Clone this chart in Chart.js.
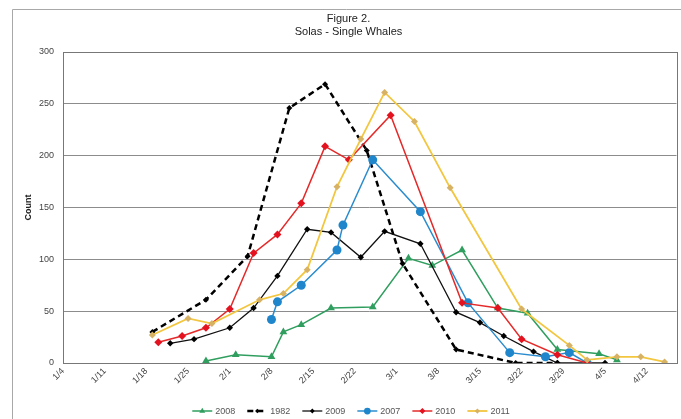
<!DOCTYPE html>
<html>
<head>
<meta charset="utf-8">
<script src="https://cdn.jsdelivr.net/npm/chart.js@4.4.0/dist/chart.umd.min.js"></script>
<style>
  body { margin: 0; background: #fff; }
  #wrap { position: relative; width: 681px; height: 419px; }
</style>
</head>
<body>
<div id="wrap"><canvas id="myChart" width="681" height="419"></canvas></div>
<script>
// ticks on the x axis, one a week starting 1/4
var tickLabels = ['1/4', '1/11', '1/18', '1/25', '2/1', '2/8', '2/15', '2/22', '3/1', '3/8', '3/15', '3/22', '3/29', '4/5', '4/12'];
var yTicks = [0, 50, 100, 150, 200, 250, 300];

// survey dates and counts, one pair per year
var dates2008 = ['1/28', '2/2', '2/8', '2/10', '2/13', '2/18', '2/25', '3/3', '3/7', '3/12', '3/18', '3/23', '3/28', '4/4', '4/7'];
var counts2008 = [2, 8, 6, 30, 37, 53, 54, 101, 94, 109, 53, 48, 13, 9, 3];

var dates1982 = ['1/19', '1/28', '2/4', '2/11', '2/17', '2/24', '3/2', '3/11', '3/21', '3/28'];
var counts1982 = [30, 61, 103, 246, 269, 205, 96, 13, 0, 0];

var dates2009 = ['1/22', '1/26', '2/1', '2/5', '2/9', '2/14', '2/18', '2/23', '2/27', '3/5', '3/11', '3/15', '3/19', '3/24', '3/28', '4/5'];
var counts2009 = [19, 23, 34, 53, 84, 129, 126, 102, 127, 115, 49, 39, 26, 11, 0, 0];

var dates2007 = ['2/8', '2/9', '2/13', '2/19', '2/20', '2/25', '3/5', '3/13', '3/20', '3/26', '3/30', '4/2'];
var counts2007 = [42, 59, 75, 109, 133, 196, 146, 58, 10, 6, 10, 0];

var dates2010 = ['1/20', '1/24', '1/28', '2/1', '2/5', '2/9', '2/13', '2/17', '2/21', '2/28', '3/12', '3/18', '3/22', '3/28', '4/2'];
var counts2010 = [20, 26, 34, 52, 106, 124, 154, 209, 196, 239, 58, 53, 23, 8, 0];

var dates2011 = ['1/19', '1/25', '1/29', '2/6', '2/10', '2/14', '2/19', '2/23', '2/27', '3/4', '3/10', '3/22', '3/30', '4/2', '4/7', '4/11', '4/15'];
var counts2011 = [27, 43, 38, 61, 67, 90, 170, 216, 261, 233, 169, 52, 17, 3, 6, 6, 1];

// days since 1/4
function dayOf(s) {
  var p = s.split('/');
  return (Date.UTC(2011, p[0] - 1, +p[1]) - Date.UTC(2011, 0, 4)) / 86400000;
}
function pts(dates, counts) {
  return dates.map(function (d, i) { return { x: dayOf(d), y: counts[i] }; });
}

var datasets = [
  { label: '2008', data: pts(dates2008, counts2008), borderColor: '#2f9e5e', backgroundColor: '#2f9e5e',
    pointStyle: 'triangle', pointRadius: 4.5, borderWidth: 1.5, order: 6 },
  { label: '1982', data: pts(dates1982, counts1982), borderColor: '#000', backgroundColor: '#000',
    pointStyle: 'rectRot', pointRadius: 3, borderWidth: 2.5, borderDash: [6, 4], order: 5 },
  { label: '2009', data: pts(dates2009, counts2009), borderColor: '#111', backgroundColor: '#000',
    pointStyle: 'rectRot', pointRadius: 3.2, borderWidth: 1.3, order: 4 },
  { label: '2007', data: pts(dates2007, counts2007), borderColor: '#2a8ccf', backgroundColor: '#1f86cc',
    pointStyle: 'circle', pointRadius: 4.5, borderWidth: 1.5, order: 3 },
  { label: '2010', data: pts(dates2010, counts2010), borderColor: '#e52a2a', backgroundColor: '#e3121e',
    pointStyle: 'rectRot', pointRadius: 4, borderWidth: 1.5, order: 2 },
  { label: '2011', data: pts(dates2011, counts2011), borderColor: '#f3c63f', backgroundColor: '#d8b264',
    pointStyle: 'rectRot', pointRadius: 3.5, borderWidth: 1.8, order: 1 }
];
datasets.forEach(function (ds) {
  ds.tension = 0;
  ds.fill = false;
  ds.pointBorderWidth = 0;
  ds.pointBorderColor = ds.backgroundColor;
});

// outer frame and plot box
var framePlugin = {
  id: 'frame',
  beforeDraw: function (chart) {
    var ctx = chart.ctx;
    ctx.save();
    ctx.fillStyle = '#fff';
    ctx.fillRect(0, 0, chart.width, chart.height);
    ctx.strokeStyle = '#a8a8a8';
    ctx.lineWidth = 1;
    ctx.beginPath();
    ctx.moveTo(12.5, chart.height);
    ctx.lineTo(12.5, 9.5);
    ctx.lineTo(chart.width, 9.5);
    ctx.stroke();
    ctx.restore();
  },
  beforeDatasetsDraw: function (chart) {
    var a = chart.chartArea, ctx = chart.ctx;
    ctx.save();
    ctx.strokeStyle = '#777';
    ctx.lineWidth = 1;
    ctx.strokeRect(Math.round(a.left) + 0.5, Math.round(a.top) + 0.5, Math.round(a.right - a.left), Math.round(a.bottom - a.top));
    ctx.restore();
  }
};

// legend with line + marker samples, centred under the chart
var legendPlugin = {
  id: 'lineLegend',
  afterDraw: function (chart) {
    var ctx = chart.ctx;
    ctx.save();
    ctx.font = '9px "Liberation Sans", Arial, sans-serif';
    ctx.textBaseline = 'middle';
    var items = chart.data.datasets.map(function (ds) {
      return { ds: ds, w: 20 + 3 + ctx.measureText(ds.label).width };
    });
    var gap = 12;
    var total = items.reduce(function (s, it) { return s + it.w; }, 0) + gap * (items.length - 1);
    var x = 351 - total / 2, y = 411;
    items.forEach(function (it) {
      var ds = it.ds;
      ctx.strokeStyle = ds.borderColor;
      ctx.lineWidth = ds.borderWidth;
      ctx.setLineDash(ds.borderDash || []);
      ctx.beginPath();
      ctx.moveTo(x, y);
      ctx.lineTo(x + 20, y);
      ctx.stroke();
      ctx.setLineDash([]);
      ctx.fillStyle = ds.backgroundColor;
      ctx.strokeStyle = ds.backgroundColor;
      Chart.helpers.drawPoint(ctx, { pointStyle: ds.pointStyle, radius: ds.pointRadius * 0.75, rotation: 0, borderWidth: 0 }, x + 10, y);
      ctx.fillStyle = '#555';
      ctx.fillText(ds.label, x + 23, y + 0.5);
      x += it.w + gap;
    });
    ctx.restore();
  }
};

var ctx = document.getElementById('myChart').getContext('2d');
var chart = new Chart(ctx, {
  type: 'line',
  data: { datasets: datasets },
  options: {
    responsive: false,
    animation: false,
    devicePixelRatio: 1,
    layout: { padding: { left: 20, right: 4, top: 0, bottom: 0 } },
    plugins: {
      legend: { display: false },
      tooltip: { enabled: false },
      title: {
        display: true,
        text: ['Figure 2.', 'Solas - Single Whales'],
        color: '#222',
        font: { family: '"Liberation Sans", Arial, sans-serif', size: 11, weight: 'normal', lineHeight: 1.2 },
        padding: { top: 12, bottom: 13.6 }
      }
    },
    scales: {
      x: {
        type: 'linear',
        min: 0,
        max: 103,
        grid: { display: false, drawTicks: false },
        border: { display: false },
        afterBuildTicks: function (s) {
          s.ticks = tickLabels.map(function (t, i) { return { value: i * 7 }; });
        },
        afterFit: function (s) { s.height = 56; },
        ticks: {
          autoSkip: false,
          maxRotation: 45,
          minRotation: 45,
          padding: 3,
          color: '#444',
          font: { family: '"Liberation Sans", Arial, sans-serif', size: 9 },
          callback: function (v) { return tickLabels[Math.round(v / 7)]; }
        }
      },
      y: {
        min: 0,
        max: 300,
        grid: { color: '#8c8c8c', drawTicks: false },
        border: { display: false },
        afterBuildTicks: function (s) {
          s.ticks = yTicks.map(function (v) { return { value: v }; });
        },
        afterFit: function (s) { s.width = 43; },
        title: {
          display: true,
          text: 'Count',
          color: '#222',
          padding: { top: 3, bottom: 0 },
          font: { family: '"Liberation Sans", Arial, sans-serif', size: 9, weight: 'bold' }
        },
        ticks: {
          padding: 9,
          color: '#444',
          font: { family: '"Liberation Sans", Arial, sans-serif', size: 9 }
        }
      }
    }
  },
  plugins: [framePlugin, legendPlugin]
});
</script>
</body>
</html>
